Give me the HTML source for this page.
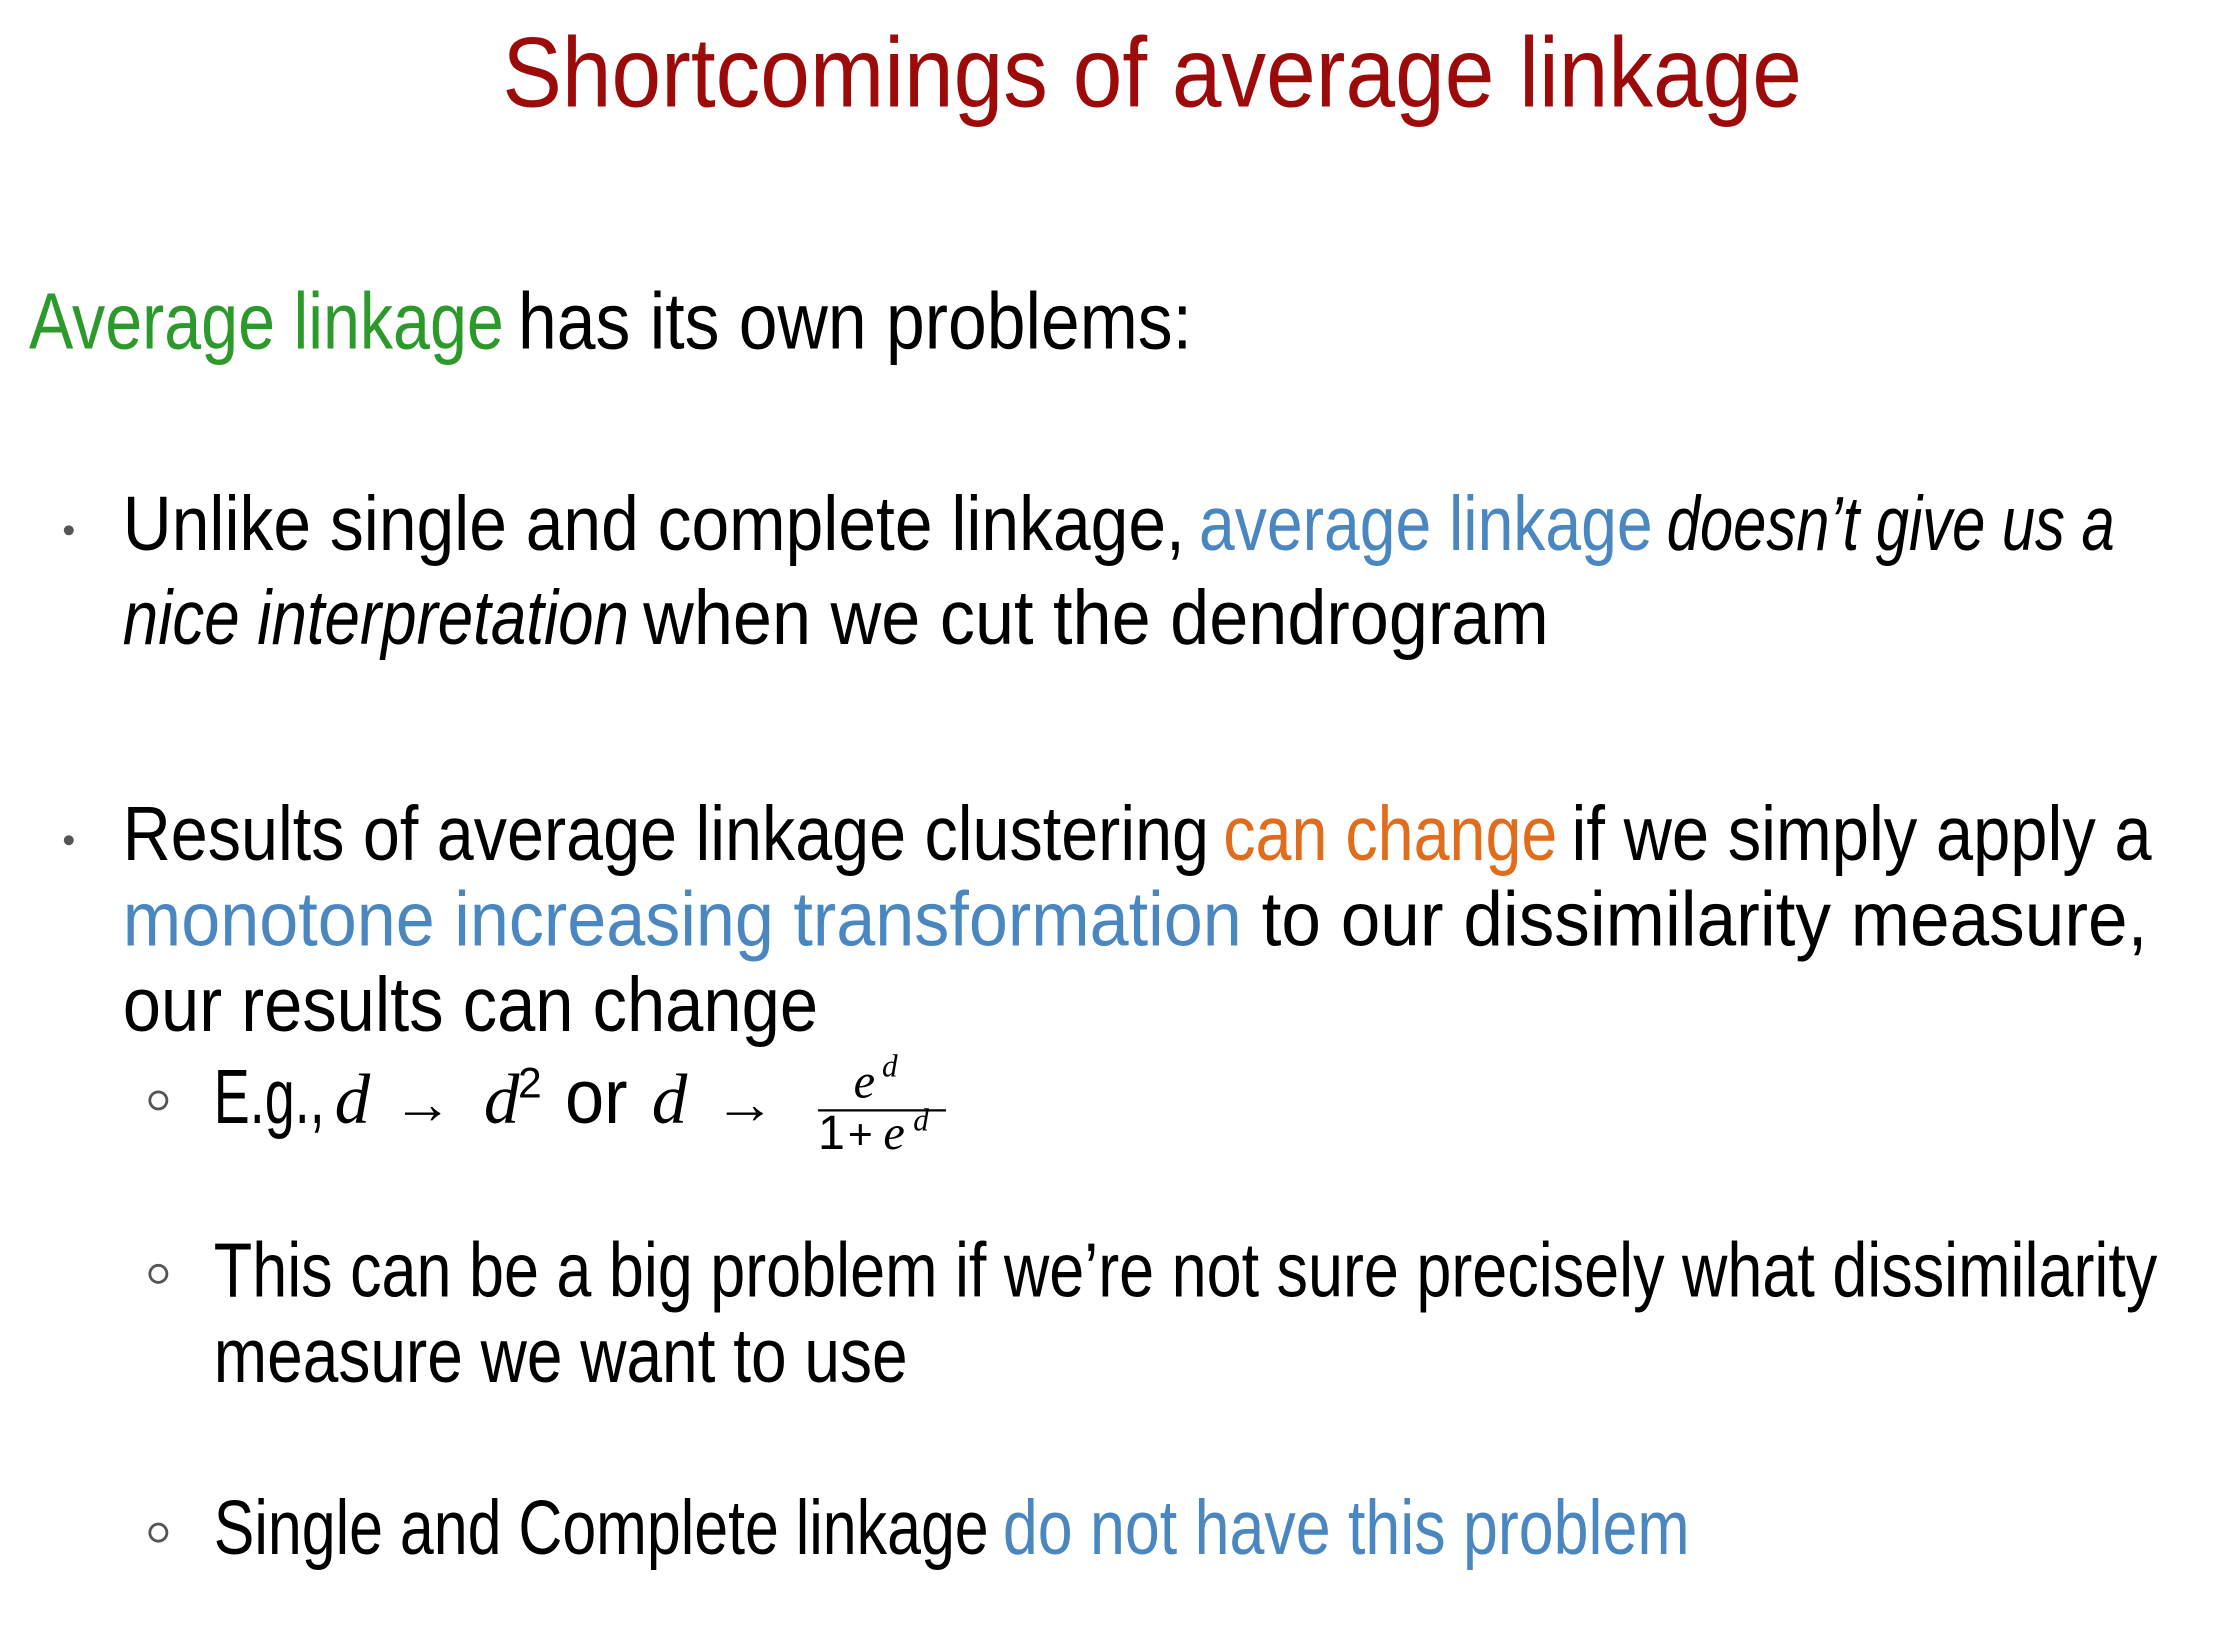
<!DOCTYPE html>
<html>
<head>
<meta charset="utf-8">
<style>
  html, body { margin: 0; padding: 0; background: #ffffff; }
  svg { display: block; }
  text { font-family: "Liberation Sans", "DejaVu Sans", sans-serif; }
  .b { fill: #000000; font-size: 54px; }
  .it { font-style: italic; }
  .m { font-family: "Liberation Serif", serif; font-style: italic; }
</style>
</head>
<body>
<svg width="2219" height="1635" viewBox="0 0 1560 1150" xmlns="http://www.w3.org/2000/svg">
  <rect x="0" y="0" width="1560" height="1150" fill="#ffffff"/>

  <text x="353" y="75" font-size="70" fill="#9c0a0a" textLength="914" lengthAdjust="spacingAndGlyphs">Shortcomings of average linkage</text>

  <g>
    <text x="20" y="245" font-size="56" fill="#2b9a2b" textLength="334" lengthAdjust="spacingAndGlyphs">Average linkage</text>
    <text x="364" y="245" font-size="56" fill="#000" textLength="474" lengthAdjust="spacingAndGlyphs">has its own  problems:</text>
  </g>

  <g>
    <circle cx="48" cy="373" r="3.5" fill="#555"/>
    <text class="b" x="86" y="387" textLength="747" lengthAdjust="spacingAndGlyphs">Unlike single and complete linkage,</text>
    <text x="843" y="387" font-size="54" fill="#4a86bf" textLength="319" lengthAdjust="spacingAndGlyphs">average linkage</text>
    <text class="b it" x="1172" y="387" textLength="315" lengthAdjust="spacingAndGlyphs">doesn’t give us a</text>
    <text class="b it" x="86" y="453" textLength="356" lengthAdjust="spacingAndGlyphs">nice interpretation</text>
    <text class="b" x="452" y="453" textLength="637" lengthAdjust="spacingAndGlyphs">when we cut the dendrogram</text>
  </g>

  <g>
    <circle cx="48" cy="591" r="3.5" fill="#555"/>
    <text class="b" x="86" y="605" textLength="764" lengthAdjust="spacingAndGlyphs">Results of average linkage clustering</text>
    <text x="860" y="605" font-size="54" fill="#e06c1c" textLength="235" lengthAdjust="spacingAndGlyphs">can change</text>
    <text class="b" x="1105" y="605" textLength="408" lengthAdjust="spacingAndGlyphs">if we simply apply a</text>
    <text x="86" y="665" font-size="54" fill="#4a86bf" textLength="787" lengthAdjust="spacingAndGlyphs">monotone increasing transformation</text>
    <text class="b" x="887" y="665" textLength="623" lengthAdjust="spacingAndGlyphs">to our dissimilarity measure,</text>
    <text class="b" x="86" y="725" textLength="489" lengthAdjust="spacingAndGlyphs">our results can change</text>
  </g>

  <g>
    <circle cx="111" cy="774" r="6" fill="none" stroke="#555" stroke-width="2"/>
    <text class="b" x="150" y="790" textLength="78" lengthAdjust="spacingAndGlyphs">E.g.,</text>
    <text class="m" x="235" y="790" font-size="50" fill="#000">d</text>
    <text x="276" y="790" font-size="40" fill="#000" textLength="42" lengthAdjust="spacingAndGlyphs">→</text>
    <text class="m" x="340" y="790" font-size="50" fill="#000">d</text>
    <text x="364" y="772" font-size="30" fill="#000" font-family="Liberation Serif, serif">2</text>
    <text class="b" x="397" y="790" textLength="44" lengthAdjust="spacingAndGlyphs">or</text>
    <text class="m" x="458" y="790" font-size="50" fill="#000">d</text>
    <text x="502" y="790" font-size="40" fill="#000" textLength="43" lengthAdjust="spacingAndGlyphs">→</text>
    <text class="m" x="600" y="772" font-size="34" fill="#000">e</text>
    <text class="m" x="620" y="757" font-size="22" fill="#000">d</text>
    <line x1="575" y1="781" x2="665" y2="781" stroke="#000" stroke-width="1.5"/>
    <text x="575" y="808" font-size="34" fill="#000" font-family="Liberation Serif, serif">1</text>
    <text x="596" y="808" font-size="30" fill="#000" font-family="Liberation Serif, serif">+</text>
    <text class="m" x="621" y="808" font-size="34" fill="#000">e</text>
    <text class="m" x="642" y="795" font-size="22" fill="#000">d</text>
  </g>

  <g>
    <circle cx="111" cy="896" r="6" fill="none" stroke="#555" stroke-width="2"/>
    <text class="b" x="150" y="912" textLength="1367" lengthAdjust="spacingAndGlyphs">This can be a big problem if we’re not sure precisely what dissimilarity</text>
    <text class="b" x="150" y="972" textLength="488" lengthAdjust="spacingAndGlyphs">measure we want to  use</text>
  </g>

  <g>
    <circle cx="111" cy="1078" r="6" fill="none" stroke="#555" stroke-width="2"/>
    <text class="b" x="150" y="1093" textLength="545" lengthAdjust="spacingAndGlyphs">Single and Complete linkage</text>
    <text x="705" y="1093" font-size="54" fill="#4a86bf" textLength="483" lengthAdjust="spacingAndGlyphs">do not have this problem</text>
  </g>
</svg>
</body>
</html>
